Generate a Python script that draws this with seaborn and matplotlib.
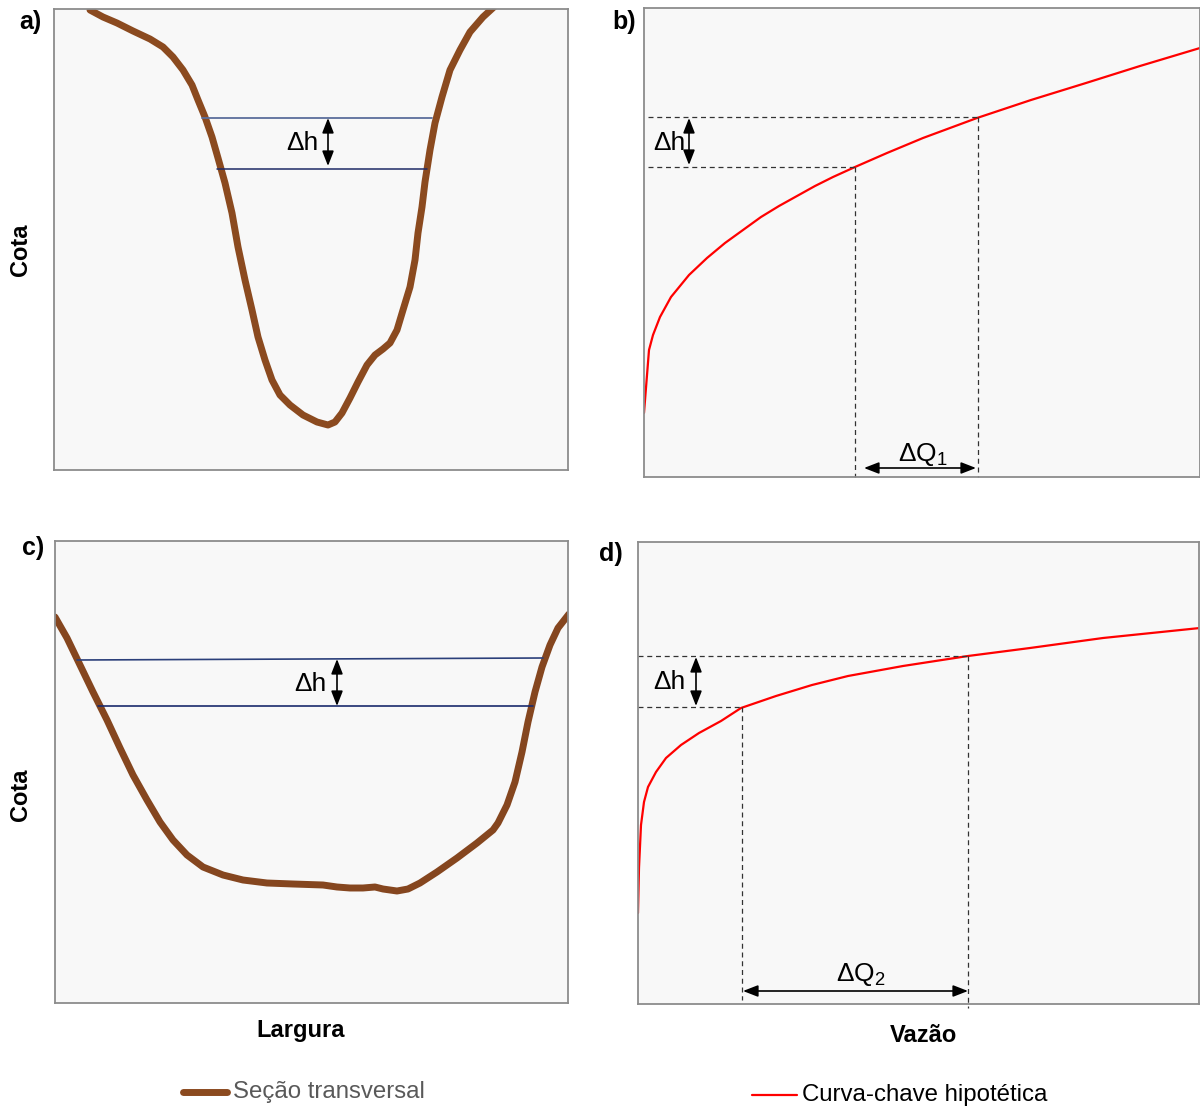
import matplotlib.pyplot as plt
from matplotlib.lines import Line2D
import seaborn as sns

sns.set_style('white')
plt.rcParams['font.family'] = ['Liberation Sans', 'DejaVu Sans']
plt.rcParams['text.color'] = 'black'
plt.rcParams['mathtext.fontset'] = 'custom'
plt.rcParams['mathtext.rm'] = 'Liberation Sans'

# cross section a) (largura, cota) - arbitrary units
sec_a_x = [36, 49, 63, 79, 96, 109, 119, 129, 138, 144, 151, 158, 164, 171, 178, 184,
           191, 198, 204, 211, 218, 226, 236, 249, 263, 274, 281, 288, 296, 304, 313, 321,
           329, 336, 343, 349, 356, 361, 364, 368, 371, 376, 381, 388, 396, 406, 416, 429, 441]
sec_a_y = [460, 453, 447, 439, 431, 423, 413, 400, 385, 370, 353, 333, 312, 287, 257, 223,
           190, 160, 133, 110, 90, 75, 65, 55, 48, 45, 48, 57, 72, 88, 105, 115,
           121, 127, 140, 160, 183, 210, 237, 263, 288, 320, 347, 373, 400, 420, 438, 453, 464]
water_a = [352, 301]          # cota of the two water levels
water_a_x0 = [148, 163]
water_a_x1 = [378, 373]

# cross section c)
sec_c_x = [0, 12, 25, 38, 52, 65, 78, 92, 105, 118, 132, 148, 168, 188, 212, 238, 268,
           282, 295, 308, 320, 328, 342, 353, 365, 382, 402, 422, 438, 443, 452, 460, 467,
           473, 480, 487, 495, 503, 514]
sec_c_y = [386, 365, 338, 311, 283, 255, 228, 203, 181, 163, 148, 136, 128, 123, 120, 119,
           118, 116, 115, 115, 116, 114, 112, 114, 120, 131, 145, 160, 173, 180, 198, 221,
           251, 281, 311, 336, 358, 375, 389]
water_c = [343, 297]
water_c_x0 = [22, 43]
water_c_x1 = [488, 478]

# rating curve b) (vazao, cota)
curve_b_q = [0, 5, 9, 16, 27, 45, 63, 81, 99, 117, 135, 153, 171, 189, 211, 243, 279,
             333, 387, 442, 496, 556]
curve_b_h = [64, 127, 142, 160, 180, 202, 219, 234, 247, 260, 271, 281, 291, 300, 310,
             324, 339, 359, 377, 394, 411, 429]
q_b = [211, 334]
h_b = [310, 360]

# rating curve d)
curve_d_q = [0, 1, 3, 6, 10, 18, 28, 43, 61, 83, 103, 138, 174, 210, 265, 330, 392, 465, 562]
curve_d_h = [91, 136, 179, 202, 217, 232, 246, 259, 271, 283, 296, 308, 319, 328, 338,
             348, 356, 366, 376]
q_d = [104, 330]
h_d = [297, 348]

BROWN = '#8B4A1F'
RED = '#FF0000'
W, H = 1200, 1108

fig = plt.figure(figsize=(12, 11.08), dpi=100)


def add_panel(left, top, right, bottom):
    ax = fig.add_axes([left / W, 1 - bottom / H, (right - left) / W, (bottom - top) / H])
    ax.set_facecolor('#f8f8f8')
    for s in ax.spines.values():
        s.set_color('#8c8c8c')
        s.set_linewidth(1.3)
    return ax


def finish(ax, w, h):
    ax.set_xlim(0, w)
    ax.set_ylim(0, h)
    ax.set_xticks([])
    ax.set_yticks([])
    ax.set_xlabel('')
    ax.set_ylabel('')


def dbl_arrow(ax, x0, y0, x1, y1):
    ax.annotate('', xy=(x1, y1), xytext=(x0, y0),
                arrowprops=dict(arrowstyle='<|-|>,head_length=0.9,head_width=0.35',
                                color='black', lw=1.2, shrinkA=0, shrinkB=0),
                annotation_clip=False)


def dashed(ax, xs, ys):
    ax.plot(xs, ys, color='#333333', lw=0.9, ls=(0, (4, 3)), clip_on=False)


# a) cross section
ax_a = add_panel(54, 9, 568, 470)
sns.lineplot(x=sec_a_x, y=sec_a_y, ax=ax_a, color=BROWN, linewidth=5, sort=False,
             estimator=None, solid_capstyle='round', solid_joinstyle='round')
ax_a.plot([water_a_x0[0], water_a_x1[0]], [water_a[0]] * 2, color='#5b6e9c', lw=1.3)
ax_a.plot([water_a_x0[1], water_a_x1[1]], [water_a[1]] * 2, color='#1f2a66', lw=1.1)
dbl_arrow(ax_a, 274, water_a[0], 274, water_a[1] + 3)
ax_a.text(248, 327, 'Δh', fontsize=19, ha='center', va='center')
finish(ax_a, 514, 461)

# b) rating curve
ax_b = add_panel(644, 8, 1200, 477)
sns.lineplot(x=curve_b_q, y=curve_b_h, ax=ax_b, color=RED, linewidth=1.6, sort=False,
             estimator=None)
dashed(ax_b, [4, q_b[1]], [h_b[1]] * 2)
dashed(ax_b, [4, q_b[0]], [h_b[0]] * 2)
dashed(ax_b, [q_b[0]] * 2, [h_b[0], 0])
dashed(ax_b, [q_b[1]] * 2, [h_b[1], 0])
dbl_arrow(ax_b, 45, h_b[1] - 1, 45, h_b[0] + 2)
ax_b.text(25, 334, 'Δh', fontsize=19, ha='center', va='center')
dbl_arrow(ax_b, q_b[0] + 9, 9, q_b[1] - 2, 9)
ax_b.text(279, 22, r'ΔQ$_\mathregular{1}$', fontsize=19, ha='center', va='center')
finish(ax_b, 556, 469)

# c) cross section
ax_c = add_panel(55, 541, 568, 1003)
sns.lineplot(x=sec_c_x, y=sec_c_y, ax=ax_c, color='#85461F', linewidth=5, sort=False,
             estimator=None, solid_capstyle='round', solid_joinstyle='round')
ax_c.plot([water_c_x0[0], water_c_x1[0]], [water_c[0], water_c[0] + 2], color='#2b3f7a', lw=1.2)
ax_c.plot([water_c_x0[1], water_c_x1[1]], [water_c[1]] * 2, color='#1a2a6c', lw=1.2)
dbl_arrow(ax_c, 282, water_c[0] + 1, 282, water_c[1])
ax_c.text(255, 319, 'Δh', fontsize=19, ha='center', va='center')
finish(ax_c, 513, 462)

# d) rating curve
ax_d = add_panel(638, 542, 1199, 1004)
sns.lineplot(x=curve_d_q, y=curve_d_h, ax=ax_d, color=RED, linewidth=1.6, sort=False,
             estimator=None)
dashed(ax_d, [0, q_d[1]], [h_d[1]] * 2)
dashed(ax_d, [0, q_d[0]], [h_d[0]] * 2)
dashed(ax_d, [q_d[0]] * 2, [h_d[0], 4])
dashed(ax_d, [q_d[1]] * 2, [h_d[1], -4])
dbl_arrow(ax_d, 58, h_d[1] - 1, 58, h_d[0] + 1)
ax_d.text(31, 322, 'Δh', fontsize=19, ha='center', va='center')
dbl_arrow(ax_d, q_d[0] + 1, 13, q_d[1], 13)
ax_d.text(223, 29, r'ΔQ$_\mathregular{2}$', fontsize=19, ha='center', va='center')
finish(ax_d, 561, 462)


def ftext(px, py, s, **kw):
    fig.text(px / W, 1 - py / H, s, **kw)


ftext(30, 22, 'a)', fontsize=18, fontweight='bold', ha='center', va='center')
ftext(624, 22, 'b)', fontsize=18, fontweight='bold', ha='center', va='center')
ftext(33, 548, 'c)', fontsize=18, fontweight='bold', ha='center', va='center')
ftext(611, 554, 'd)', fontsize=18, fontweight='bold', ha='center', va='center')
ftext(20, 250, 'Cota', fontsize=17, fontweight='bold', ha='center', va='center', rotation=90)
ftext(20, 795, 'Cota', fontsize=17, fontweight='bold', ha='center', va='center', rotation=90)
ftext(301, 1031, 'Largura', fontsize=17, fontweight='bold', ha='center', va='center')
ftext(923, 1036, 'Vazão', fontsize=17, fontweight='bold', ha='center', va='center')

# legends
fig.add_artist(Line2D([183 / W, 227 / W], [1 - 1092 / H] * 2, color=BROWN, lw=5,
                      solid_capstyle='round'))
ftext(233, 1092, 'Seção transversal', fontsize=17.3, color='#595959', ha='left', va='center')
fig.add_artist(Line2D([752 / W, 797 / W], [1 - 1095 / H] * 2, color=RED, lw=1.6))
ftext(802, 1095, 'Curva-chave hipotética', fontsize=17.3, color='black', ha='left', va='center')

fig.savefig('out.png', dpi=100)
